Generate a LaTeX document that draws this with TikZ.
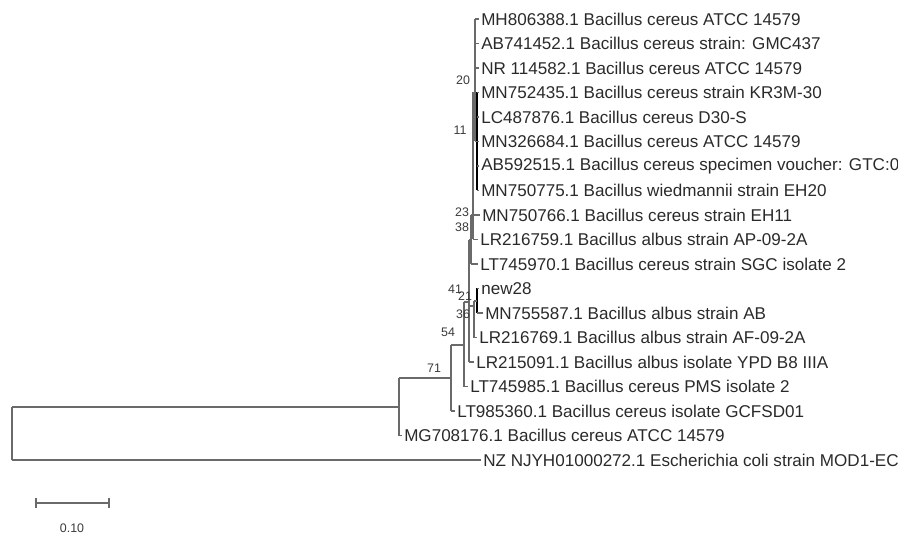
\documentclass[tikz,border=0pt]{standalone}
\usepackage{fontspec}
\setmainfont{Liberation Sans}
\usepackage{tikz}
\usetikzlibrary{calc,arrows.meta,positioning}
\definecolor{branchgray}{HTML}{6A6A6A}
\definecolor{taxonink}{HTML}{2A2A2A}
\definecolor{supportink}{HTML}{3A3A3A}
\tikzset{
  branch/.style={draw=branchgray, line width=1.15pt},
  darkbranch/.style={draw=black, line width=1.3pt},
  taxon/.style={anchor=west, inner xsep=1.5pt, inner ysep=0pt, text=taxonink, font=\fontsize{12.8}{14}\selectfont},
  support/.style={inner sep=0pt, text=supportink, font=\fontsize{9.3}{11}\selectfont},
}

\begin{document}
\begin{tikzpicture}[x=0.75pt, y=-0.75pt]
    \useasboundingbox (0,0) rectangle (898,534);

    % Taxa
    \node[taxon] (l1)  at (479,19)    {MH806388.1 Bacillus cereus ATCC 14579};
    \node[taxon] (l2)  at (479,43.5)  {AB741452.1 Bacillus cereus strain: GMC437};
    \node[taxon] (l3)  at (479,68)    {NR 114582.1 Bacillus cereus ATCC 14579};
    \node[taxon] (l4)  at (479,92.5)  {MN752435.1 Bacillus cereus strain KR3M-30};
    \node[taxon] (l5)  at (479,117)   {LC487876.1 Bacillus cereus D30-S};
    \node[taxon] (l6)  at (479,141.5) {MN326684.1 Bacillus cereus ATCC 14579};
    \node[taxon] (l7)  at (479,166)   {AB592515.1 Bacillus cereus specimen voucher: GTC:0};
    \node[taxon] (l8)  at (479,190.5) {MN750775.1 Bacillus wiedmannii strain EH20};
    \node[taxon] (l9)  at (480,215)   {MN750766.1 Bacillus cereus strain EH11};
    \node[taxon] (l10) at (478,239.5) {LR216759.1 Bacillus albus strain AP-09-2A};
    \node[taxon] (l11) at (478,264)   {LT745970.1 Bacillus cereus strain SGC isolate 2};
    \node[taxon] (l12) at (479,288.5) {new28};
    \node[taxon] (l13) at (483,313)   {MN755587.1 Bacillus albus strain AB};
    \node[taxon] (l14) at (477,337.5) {LR216769.1 Bacillus albus strain AF-09-2A};
    \node[taxon] (l15) at (474,362)   {LR215091.1 Bacillus albus isolate YPD B8 IIIA};
    \node[taxon] (l16) at (468,386.5) {LT745985.1 Bacillus cereus PMS isolate 2};
    \node[taxon] (l17) at (455,411)   {LT985360.1 Bacillus cereus isolate GCFSD01};
    \node[taxon] (l18) at (402,435.5) {MG708176.1 Bacillus cereus ATCC 14579};
    \node[taxon] (l19) at (481,460)   {NZ NJYH01000272.1 Escherichia coli strain MOD1-EC};

    % Internal nodes
    \coordinate (n11)  at (477,141.5);
    \coordinate (n20)  at (475,92.5);
    \coordinate (n23)  at (473,215);
    \coordinate (n38)  at (471,240);
    \coordinate (n36)  at (477,301);
    \coordinate (n21)  at (474,306);
    \coordinate (n41)  at (469,302);
    \coordinate (n54)  at (464,345);
    \coordinate (n71)  at (451,378);
    \coordinate (nout) at (399,407);
    \coordinate (root) at (12,433);

    % Vertical bars
    \foreach \p/\a/\b in {n20/l1.west/n11, n23/n20/l10.west, n38/n23/l11.west,
        n21/n36/l14.west, n41/n38/l15.west, n54/n41/l16.west, n71/n54/l17.west,
        nout/n71/l18.west, root/nout/l19.west}
        \draw[branch] (\p |- \a) -- (\p |- \b);
    \draw[darkbranch] (n11 |- l4.west) -- (n11 |- l8.west);
    \draw[darkbranch] (n36 |- l12.west) -- (n36 |- l13.west);

    % Horizontal branches
    \foreach \p/\k in {n11/l4.west, n11/l5.west, n11/l6.west, n11/l7.west, n11/l8.west,
        n20/l1.west, n20/l2.west, n20/l3.west, n20/n11,
        n23/n20, n23/l9.west, n23/l10.west,
        n38/n23, n38/l11.west,
        n36/l12.west, n36/l13.west,
        n21/n36, n21/l14.west,
        n41/n38, n41/n21, n41/l15.west,
        n54/n41, n54/l16.west,
        n71/n54, n71/l17.west,
        nout/n71, nout/l18.west,
        root/nout, root/l19.west}
        \draw[branch] (\p |- \k) -- (\k);

    % Bootstrap values
    \node[support] (b20) at (463,80)  {20};
    \node[support] (b11) at (460,130) {11};
    \node[support] (b23) at (462,212) {23};
    \node[support] (b38) at (462,227) {38};
    \node[support] (b41) at (455,289) {41};
    \node[support] (b21) at (465,296) {21};
    \node[support] (b36) at (463,314) {36};
    \node[support] (b54) at (448,332) {54};
    \node[support] (b71) at (434,368) {71};

    % Scale bar
    \coordinate (sbl) at (35,503);
    \coordinate (sbr) at (110,503);
    \draw[branch, {Bar[width=7pt]}-{Bar[width=7pt]}] (sbl) -- (sbr);
    \node[support] (sbtext) at (72,528) {0.10};

\end{tikzpicture}
\end{document}
